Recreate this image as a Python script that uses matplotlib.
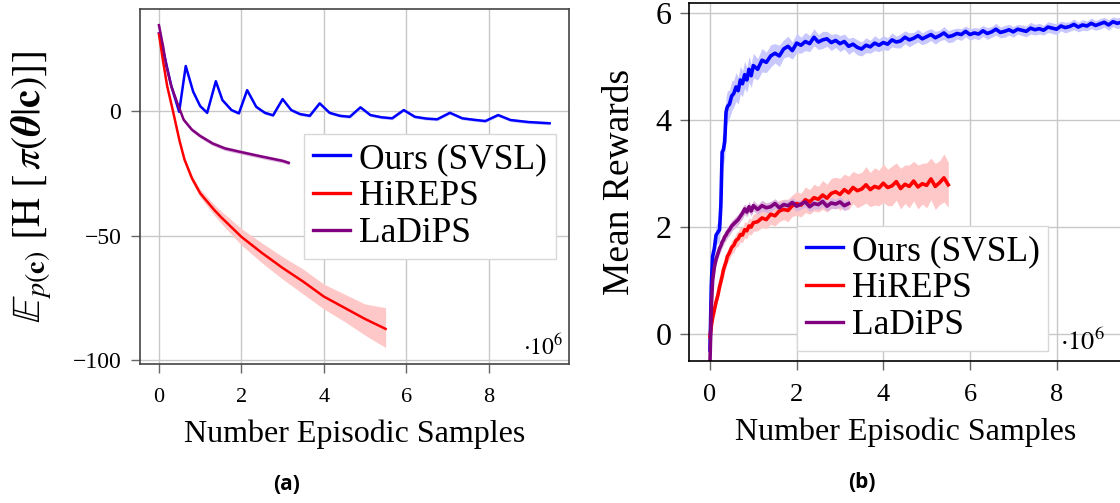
import matplotlib.pyplot as plt
import numpy as np

plt.rcParams['font.family'] = ['Liberation Serif', 'DejaVu Serif']
plt.rcParams['mathtext.fontset'] = 'stix'

# ---- (a) expected entropy ----
ENT_X_OURS = [0, 0.15, 0.3, 0.49, 0.65, 0.83, 1.0, 1.17, 1.38, 1.54, 1.76, 1.94, 2.14, 2.36,
              2.57, 2.77, 3.0, 3.21, 3.42, 3.66, 3.9, 4.14, 4.39, 4.63, 4.89, 5.13, 5.4, 5.66,
              5.94, 6.21, 6.48, 6.75, 7.06, 7.36, 7.64, 7.92, 8.23, 8.53, 8.96, 9.48]
ENT_OURS = [31.2, 21, 10, -0.3, 18.1, 7.8, 2.0, -0.7, 12.0, 4.4, 0.4, -0.9, 8.4, 1.7,
            -0.7, -1.7, 4.8, 0.4, -1.2, -1.9, 3.1, -0.7, -1.9, -2.3, 1.5, -1.6, -2.5, -2.9,
            0.4, -2.3, -3.0, -3.3, -0.7, -2.9, -3.5, -4.0, -1.6, -3.6, -4.4, -4.9]

ENT_X_HIREPS = [0, 0.1, 0.2, 0.34, 0.5, 0.62, 0.8, 1.0, 1.33, 1.5, 2.0, 2.5, 3.0, 3.5, 4.0,
                4.5, 5.0, 5.5]
ENT_HIREPS = [31, 20, 10, 0, -12, -19.5, -27, -33, -39.5, -42.5, -50.5, -57, -63, -68.5,
              -74.5, -79, -83.5, -87.5]
ENT_HIREPS_LO = [30.5, 19.5, 9.4, -0.7, -12.8, -20.5, -28.3, -34.6, -41.6, -44.9, -53.8,
                 -61, -67.5, -73.5, -79.5, -84.5, -90, -95]
ENT_HIREPS_HI = [31.5, 20.5, 10.6, 0.7, -11.2, -18.5, -25.7, -31.4, -37.4, -40.1, -47.2,
                 -53, -58.5, -63.5, -69.5, -73.5, -77.5, -79]

ENT_X_LADIPS = [0, 0.1, 0.18, 0.3, 0.45, 0.6, 0.8, 1.0, 1.3, 1.6, 2.0, 2.5, 3.0, 3.15]
ENT_LADIPS = [34.5, 26, 18, 10, 3, -3.5, -7.5, -10, -13, -15, -16.5, -18.3, -20, -20.8]

# ---- (b) mean rewards ----
REW_X = [0, 0.03, 0.06, 0.1, 0.14, 0.18, 0.22, 0.25, 0.28, 0.31, 0.34, 0.37, 0.4, 0.45, 0.5,
         0.55, 0.6, 0.65, 0.7, 0.75, 0.8, 0.85, 0.9, 0.95, 1.0,
         1.1, 1.2, 1.3, 1.4, 1.5, 1.6, 1.7, 1.8, 1.9, 2.0, 2.1, 2.2, 2.3, 2.4, 2.5, 2.6, 2.7,
         2.8, 2.9, 3.0, 3.1, 3.2, 3.3, 3.4, 3.5, 3.6, 3.7, 3.8, 3.9, 4.0, 4.1, 4.2, 4.3, 4.4,
         4.5, 4.6, 4.7, 4.8, 4.9, 5.0, 5.1, 5.2, 5.3, 5.4, 5.5, 5.6, 5.7, 5.8, 5.9, 6.0, 6.1,
         6.2, 6.3, 6.4, 6.5, 6.6, 6.7, 6.8, 6.9, 7.0, 7.1, 7.2, 7.3, 7.4, 7.5, 7.6, 7.7, 7.8,
         7.9, 8.0, 8.1, 8.2, 8.3, 8.4, 8.5, 8.6, 8.7, 8.8, 8.9, 9.0, 9.1, 9.2, 9.3, 9.4, 9.5]

REW_OURS = [-0.3, 0.9, 1.45, 1.6, 1.85, 1.9, 1.95, 2.4, 3.4, 3.45, 3.6, 4.15, 4.25, 4.3, 4.45,
            4.5, 4.62, 4.55, 4.75, 4.68, 4.85, 4.75, 4.95, 4.83, 5.02,
            4.95, 5.12, 5.08, 5.2, 5.25, 5.2, 5.33, 5.38, 5.3,
            5.44, 5.4, 5.47, 5.43, 5.55, 5.46, 5.5, 5.52, 5.45, 5.49,
            5.43, 5.47, 5.38, 5.42, 5.36, 5.33, 5.4, 5.37, 5.44, 5.4,
            5.45, 5.42, 5.5, 5.46, 5.48, 5.55, 5.5, 5.53, 5.58, 5.52,
            5.56, 5.6, 5.54, 5.58, 5.63, 5.56, 5.58, 5.62, 5.6, 5.66,
            5.6, 5.63, 5.61, 5.67, 5.62, 5.65, 5.7, 5.64, 5.66, 5.69,
            5.65, 5.7, 5.68, 5.66, 5.72, 5.69, 5.71, 5.68, 5.74, 5.72,
            5.7, 5.76, 5.73, 5.75, 5.79, 5.74, 5.78, 5.76, 5.81, 5.77,
            5.8, 5.83, 5.78, 5.84, 5.81, 5.83]
REW_OURS_SD = [0.05, 0.15, 0.2, 0.2, 0.18, 0.2, 0.22, 0.3, 0.3, 0.28, 0.3, 0.28, 0.3, 0.26, 0.28,
               0.25, 0.27, 0.25, 0.26, 0.24, 0.25, 0.23, 0.24, 0.22, 0.23,
               0.2, 0.22, 0.19, 0.21, 0.18, 0.2, 0.17, 0.19, 0.16, 0.18, 0.15, 0.17, 0.15, 0.16,
               0.14, 0.16, 0.14, 0.15, 0.13, 0.15, 0.14, 0.15, 0.13, 0.14, 0.13, 0.14, 0.12,
               0.14, 0.12, 0.13, 0.12, 0.13, 0.11, 0.13, 0.12, 0.13, 0.11, 0.12, 0.11, 0.12,
               0.11, 0.12, 0.1, 0.12, 0.11, 0.12, 0.1, 0.11, 0.1, 0.11, 0.1, 0.11, 0.1, 0.11,
               0.1, 0.11, 0.1, 0.11, 0.1, 0.1, 0.09, 0.1, 0.1, 0.11, 0.1, 0.1, 0.09, 0.1, 0.1,
               0.1, 0.09, 0.1, 0.09, 0.1, 0.09, 0.1, 0.09, 0.1, 0.09, 0.1, 0.09, 0.1, 0.09, 0.1, 0.1]

REW_HIREPS = [-0.05, 0.15, 0.3, 0.45, 0.6, 0.72, 0.88, 0.98, 1.08, 1.2, 1.28, 1.35, 1.45, 1.52,
              1.62, 1.66, 1.75, 1.78, 1.86, 1.85, 1.95, 1.93, 2.02, 2.0, 2.08,
              2.1, 2.17, 2.14, 2.24, 2.21, 2.3, 2.33, 2.31, 2.4,
              2.44, 2.41, 2.51, 2.47, 2.55, 2.52, 2.6, 2.54, 2.63, 2.66,
              2.61, 2.7, 2.64, 2.74, 2.68, 2.71, 2.79, 2.7, 2.76, 2.73,
              2.82, 2.74, 2.77, 2.85, 2.72, 2.8, 2.76, 2.86, 2.75, 2.81,
              2.78, 2.9, 2.76, 2.83, 2.92, 2.79]
REW_HIREPS_SD = [0.03, 0.05, 0.06, 0.07, 0.08, 0.08, 0.09, 0.1, 0.1, 0.11, 0.11, 0.12, 0.12,
                 0.12, 0.13, 0.13, 0.13, 0.14, 0.14, 0.14, 0.15, 0.15, 0.15, 0.15, 0.16,
                 0.17, 0.18, 0.17, 0.19, 0.19, 0.2, 0.19, 0.21, 0.2, 0.22, 0.22, 0.24, 0.23,
                 0.25, 0.24, 0.27, 0.26, 0.28, 0.27, 0.3, 0.29, 0.31, 0.3, 0.32, 0.31, 0.34,
                 0.32, 0.35, 0.33, 0.36, 0.34, 0.37, 0.35, 0.38, 0.36, 0.4, 0.37, 0.41, 0.38,
                 0.42, 0.39, 0.43, 0.41, 0.45, 0.42]

REW_LADIPS = [-0.5, 0.5, 1.0, 1.25, 1.4, 1.5, 1.6, 1.65, 1.72, 1.76, 1.82, 1.85, 1.9, 1.95,
              2.02, 2.06, 2.1, 2.14, 2.2, 2.26, 2.34, 2.28, 2.38, 2.3, 2.4,
              2.33, 2.4, 2.36, 2.38, 2.44, 2.36, 2.42, 2.4, 2.46,
              2.39, 2.43, 2.47, 2.38, 2.44, 2.42, 2.48, 2.39, 2.45, 2.43,
              2.47, 2.4, 2.44]
REW_LADIPS_SD = [0.05, 0.1, 0.1, 0.1, 0.1, 0.1, 0.1, 0.1, 0.1, 0.1, 0.1, 0.1, 0.1, 0.1, 0.1,
                 0.1, 0.1, 0.1, 0.1, 0.1, 0.1, 0.09, 0.1, 0.09, 0.1,
                 0.09, 0.1, 0.09, 0.1, 0.09, 0.1, 0.09, 0.1, 0.09, 0.1, 0.09, 0.1, 0.09, 0.1,
                 0.09, 0.1, 0.09, 0.1, 0.09, 0.1, 0.09, 0.1]

LABELS = ['Ours (SVSL)', 'HiREPS', 'LaDiPS']
COLORS = ['#0000ff', '#ff0000', '#800080']
BANDS = ['#c8c8ff', '#ffc8c8', '#dcb4dc']

W, H = 1120, 503
fig = plt.figure(figsize=(W / 100, H / 100), dpi=100)
ax1 = fig.add_axes([140 / W, 1 - 364 / H, 429 / W, 355 / H])
ax2 = fig.add_axes([689 / W, 1 - 361 / H, 433 / W, 358 / H])


def style(ax, spine_col):
    ax.grid(True, color='#c8c8c8', linewidth=1.0)
    ax.set_axisbelow(True)
    for s in ax.spines.values():
        s.set_color(spine_col)
        s.set_linewidth(1.2)
    ax.tick_params(direction='out', length=6.5, width=1.0, color='#666666')


# panel (a)
style(ax1, '#444444')
ax1.fill_between(ENT_X_OURS, np.array(ENT_OURS) - 0.6, np.array(ENT_OURS) + 0.6,
                 color=BANDS[0], linewidth=0)
ax1.fill_between(ENT_X_HIREPS, ENT_HIREPS_LO, ENT_HIREPS_HI, color=BANDS[1], linewidth=0)
ax1.fill_between(ENT_X_LADIPS, np.array(ENT_LADIPS) - 0.8, np.array(ENT_LADIPS) + 0.8,
                 color=BANDS[2], linewidth=0)
ax1.plot(ENT_X_OURS, ENT_OURS, color=COLORS[0], lw=1.8, label=LABELS[0])
ax1.plot(ENT_X_HIREPS, ENT_HIREPS, color=COLORS[1], lw=1.8, label=LABELS[1])
ax1.plot(ENT_X_LADIPS, ENT_LADIPS, color=COLORS[2], lw=1.8, label=LABELS[2])
ax1.set_xlim(-0.46, 9.95)
ax1.set_ylim(-101.6, 41)
ax1.set_xticks([0, 2, 4, 6, 8])
ax1.set_yticks([-100, -50, 0])
ax1.tick_params(axis='x', labelsize=16, pad=11)
ax1.tick_params(axis='y', labelsize=17, pad=7)
ax1.set_xlabel('Number Episodic Samples', fontsize=23, labelpad=9)
ax1.set_ylabel(r'$\mathbb{E}_{p(\mathbf{c})}\ \left[\mathrm{H}\ [\,\pi(\boldsymbol{\theta}|\mathbf{c})]\right]$',
               fontsize=29)
ax1.yaxis.set_label_coords(-0.2, 0.5)

# panel (b)
style(ax2, '#000000')
x = np.array(REW_X)
for vals, sd, band in [(REW_OURS, REW_OURS_SD, BANDS[0]),
                       (REW_HIREPS, REW_HIREPS_SD, BANDS[1]),
                       (REW_LADIPS, REW_LADIPS_SD, BANDS[2])]:
    v = np.array(vals)
    s = np.array(sd)
    ax2.fill_between(x[:len(v)], v - s, v + s, color=band, linewidth=0)
for vals, col, lab in [(REW_OURS, COLORS[0], LABELS[0]),
                       (REW_HIREPS, COLORS[1], LABELS[1]),
                       (REW_LADIPS, COLORS[2], LABELS[2])]:
    ax2.plot(x[:len(vals)], vals, color=col, lw=2.6, label=lab)
ax2.set_xlim(-0.485, 9.51)
ax2.set_ylim(-0.505, 6.19)
ax2.set_xticks([0, 2, 4, 6, 8])
ax2.set_yticks([0, 2, 4, 6])
ax2.tick_params(axis='x', labelsize=19, pad=10)
ax2.tick_params(axis='y', labelsize=23, pad=6)
ax2.set_xlabel('Number Episodic Samples', fontsize=23, labelpad=8)
ax2.set_ylabel('Mean Rewards', fontsize=27)
ax2.yaxis.set_label_coords(-0.12, 0.5)

leg_kw = dict(fontsize=25.5, frameon=True, fancybox=False, framealpha=1, edgecolor='#d8d8d8',
              handlelength=1.05, handletextpad=0.25, labelspacing=0.12, borderpad=0.25,
              borderaxespad=0, loc='upper left')
l1 = ax1.legend(bbox_to_anchor=(0.382, 0.648), **leg_kw)
l2 = ax2.legend(bbox_to_anchor=(0.249, 0.377), **leg_kw)
for lg in (l1, l2):
    lg.get_frame().set_linewidth(1.0)
    for ln in lg.get_lines():
        ln.set_linewidth(2.4)

fig.text(563 / W, 1 - 347 / H, r'$\cdot 10^6$', ha='right', va='center', fontsize=17)
fig.text(1105 / W, 1 - 342 / H, r'$\cdot 10^6$', ha='right', va='center', fontsize=19)
fig.text(287 / W, 1 - 485 / H, '(a)', ha='center', va='center', fontsize=15,
         fontweight='bold', family='Open Sans')
fig.text(862 / W, 1 - 483 / H, '(b)', ha='center', va='center', fontsize=15,
         fontweight='bold', family='Open Sans')

fig.savefig('out.png', dpi=100)
